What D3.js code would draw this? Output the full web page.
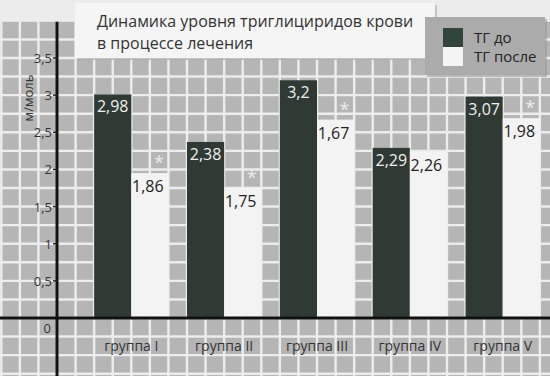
<!DOCTYPE html>
<html>
<head>
<meta charset="utf-8">
<script src="https://cdn.jsdelivr.net/npm/d3@7"></script>
<style>
body{margin:0;background:#ececec;}
svg{display:block;font-family:'Open Sans',sans-serif;}
</style>
</head>
<body>
<div id="chart"></div>
<script>
let chart_width = 550;
let chart_height = 376;

// data (bar heights as drawn, labels as printed)
let groups = ['группа I','группа II','группа III','группа IV','группа V'];
let series_names = ['ТГ до','ТГ после'];
let before_values = [3.01, 2.37, 3.2, 2.29, 2.98];
let after_values = [1.95, 1.75, 2.67, 2.24, 2.69];
let before_labels = ['2,98','2,38','3,2','2,29','3,07'];
let after_labels = ['1,86','1,75','1,67','2,26','1,98'];
let after_marked = [true, true, true, false, true];
let y_ticks = [0, 0.5, 1, 1.5, 2, 2.5, 3, 3.5];
let y_tick_labels = ['0','0,5','1','1,5','2','2,5','3','3,5'];

const yScale = d3.scaleLinear().domain([0,3.5]).range([318,58]);
const cell = yScale(0) - yScale(0.25);
const axis_x = 57;
const xScale = d3.scaleBand().domain(groups)
    .range([axis_x + 1.5*cell, axis_x + 26.5*cell])
    .paddingInner(0.2).paddingOuter(0.1);
const subScale = d3.scaleBand().domain(series_names)
    .range([0, xScale.bandwidth()]);

let svg = d3.select('#chart')
    .append('svg')
    .attr('width',chart_width)
    .attr('height',chart_height);

// gray grid background
let grid_top = yScale(4) + 1;
svg.append('rect')
    .attr('x',0).attr('y',grid_top)
    .attr('width',chart_width).attr('height',chart_height-grid_top)
    .attr('fill','#b5b5b5');

let grid = svg.append('g').attr('stroke','#ededed').attr('stroke-width',2.4);
grid.selectAll('.hgrid')
    .data(d3.range(-0.75, 3.76, 0.25))
    .enter().append('line')
    .attr('x1',0).attr('x2',chart_width)
    .attr('y1',d=>yScale(d)).attr('y2',d=>yScale(d));
grid.selectAll('.vgrid')
    .data(d3.range(-3, 27))
    .enter().append('line')
    .attr('x1',d=>axis_x + d*cell).attr('x2',d=>axis_x + d*cell)
    .attr('y1',grid_top).attr('y2',chart_height);

// title box
svg.append('rect')
    .attr('x',77).attr('y',5).attr('width',360).attr('height',55)
    .attr('fill','#9a9a9a').attr('opacity',0.5);
svg.append('rect')
    .attr('x',75).attr('y',3).attr('width',360).attr('height',55)
    .attr('fill','#f5f5f5');
svg.append('text')
    .attr('x',97).attr('y',27)
    .attr('fill','#333')
    .style('font-size','16px')
    .text('Динамика уровня триглициридов крови');
svg.append('text')
    .attr('x',97).attr('y',49)
    .attr('fill','#333')
    .style('font-size','16px')
    .text('в процессе лечения');

// legend box
svg.append('rect')
    .attr('x',427).attr('y',19).attr('width',120).attr('height',58)
    .attr('fill','#8f8f8f').attr('opacity',0.5);
svg.append('rect')
    .attr('x',425).attr('y',17).attr('width',120).attr('height',58)
    .attr('fill','#ababab');
let legend = svg.append('g').attr('transform','translate(443,28)');
legend.selectAll('rect')
    .data(series_names)
    .enter().append('rect')
    .attr('x',0).attr('y',(d,i)=>i*19)
    .attr('width',20).attr('height',19)
    .attr('fill',(d,i)=>i===0 ? '#33443b' : '#f4f4f4');
legend.selectAll('text')
    .data(series_names)
    .enter().append('text')
    .attr('x',31).attr('y',(d,i)=>i*19+15)
    .attr('fill','#222')
    .style('font-size','15px')
    .text(d=>d);

// bars
let bar_groups = svg.append('g').selectAll('g')
    .data(groups)
    .enter().append('g')
    .attr('transform',d=>'translate('+xScale(d)+',0)');

bar_groups.append('rect')
    .attr('x',subScale(series_names[0]))
    .attr('y',(d,i)=>yScale(before_values[i]))
    .attr('width',subScale.bandwidth())
    .attr('height',(d,i)=>yScale(0)-yScale(before_values[i]))
    .attr('fill','#2f3a35');

bar_groups.append('rect')
    .attr('x',subScale(series_names[1]))
    .attr('y',(d,i)=>yScale(after_values[i]))
    .attr('width',subScale.bandwidth())
    .attr('height',(d,i)=>yScale(0)-yScale(after_values[i]))
    .attr('fill','#f3f3f3');

bar_groups.append('text')
    .attr('x',subScale(series_names[0]) + subScale.bandwidth()/2)
    .attr('y',(d,i)=>yScale(before_values[i])+18)
    .attr('text-anchor','middle')
    .attr('fill','#f0f0f0')
    .style('font-size','16px')
    .text((d,i)=>before_labels[i]);

bar_groups.append('text')
    .attr('x',subScale(series_names[1]) + subScale.bandwidth()/2 - 2)
    .attr('y',(d,i)=>yScale(after_values[i])+19)
    .attr('text-anchor','middle')
    .attr('fill','#222')
    .style('font-size','16px')
    .text((d,i)=>after_labels[i]);

bar_groups.filter((d,i)=>after_marked[i])
    .append('text')
    .attr('x',subScale(series_names[1]) + subScale.bandwidth()/2 + 9)
    .attr('y',d=>yScale(after_values[groups.indexOf(d)]) - 4)
    .attr('text-anchor','middle')
    .attr('fill','#ececec')
    .style('font-size','18px')
    .text('*');

// axes
svg.append('line')
    .attr('x1',0).attr('x2',chart_width)
    .attr('y1',yScale(0)).attr('y2',yScale(0))
    .attr('stroke','#111').attr('stroke-width',3);
svg.append('line')
    .attr('x1',axis_x).attr('x2',axis_x)
    .attr('y1',grid_top).attr('y2',chart_height)
    .attr('stroke','#111').attr('stroke-width',3);

let ticks = svg.append('g');
ticks.selectAll('line')
    .data(y_ticks.slice(1))
    .enter().append('line')
    .attr('x1',axis_x-4).attr('x2',axis_x)
    .attr('y1',d=>yScale(d)).attr('y2',d=>yScale(d))
    .attr('stroke','#222').attr('stroke-width',1.5);
ticks.selectAll('text')
    .data(y_ticks)
    .enter().append('text')
    .attr('x',d=>d===0 ? 51 : 52)
    .attr('y',d=>d===0 ? yScale(d)+15 : yScale(d)+5)
    .attr('text-anchor','end')
    .attr('fill','#333')
    .style('font-size','13px')
    .text((d,i)=>y_tick_labels[i]);

svg.append('text')
    .attr('transform','translate(33,98) rotate(-90)')
    .attr('text-anchor','middle')
    .attr('fill','#333')
    .style('font-size','13px')
    .text('м/моль');

svg.append('g').selectAll('text')
    .data(groups)
    .enter().append('text')
    .attr('x',d=>xScale(d)+xScale.bandwidth()/2)
    .attr('y',351)
    .attr('text-anchor','middle')
    .attr('fill','#333')
    .style('font-size','14px')
    .text(d=>d);
</script>
</body>
</html>
